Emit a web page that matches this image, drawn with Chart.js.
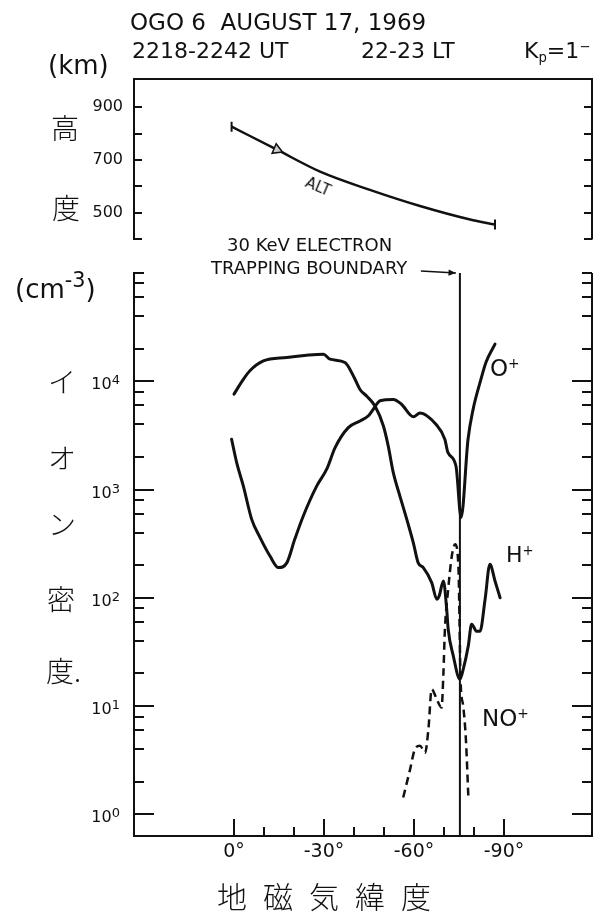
<!DOCTYPE html>
<html>
<head>
<meta charset="utf-8">
<title>OGO 6 ion densities</title>
<script src="https://cdn.jsdelivr.net/npm/chart.js@4.4.1/dist/chart.umd.min.js"></script>
<style>
  body { margin: 0; background: #fff; }
  #page { position: relative; width: 593px; height: 912px; overflow: hidden; background: #fff; color: #111; }
  canvas { position: absolute; left: 0; }
  .t { position: absolute; line-height: 1; white-space: pre; font-family: 'DejaVu Sans', sans-serif; transform: translateY(-50%); }
  .jp { font-family: 'Noto Sans CJK JP', sans-serif; font-weight: 300; font-size: 28px; }
  sup, sub { font-size: 0.6em; line-height: 0; position: relative; vertical-align: baseline; }
  sup { top: -0.55em; }
  sub { top: 0.3em; }
</style>
</head>
<body>
<div id="page">
  <canvas id="altChart" width="593" height="260" style="top:0"></canvas>
  <canvas id="ionChart" width="593" height="657" style="top:255px"></canvas>

  <div class="t" style="left:130px; top:22px; font-size:23px">OGO 6  AUGUST 17, 1969</div>
  <div class="t" style="left:132px; top:51px; font-size:22px">2218-2242 UT</div>
  <div class="t" style="left:361px; top:51px; font-size:22px">22-23 LT</div>
  <div class="t" style="left:524px; top:51px; font-size:22px">K<sub>p</sub>=1<sup>−</sup></div>

  <div class="t" style="left:48px; top:65px; font-size:26px">(km)</div>
  <div class="t jp" style="left:51px; top:127px">高</div>
  <div class="t jp" style="left:52px; top:207px">度</div>

  <div class="t" style="left:15px; top:289px; font-size:26px">(cm<sup style="font-size:0.8em">-3</sup>)</div>
  <div class="t jp" style="left:48px; top:381px">イ</div>
  <div class="t jp" style="left:48px; top:457px">オ</div>
  <div class="t jp" style="left:48px; top:523px">ン</div>
  <div class="t jp" style="left:47px; top:598px">密</div>
  <div class="t jp" style="left:46px; top:670px">度.</div>

  <div class="t jp" style="left:217px; top:895px; font-size:30px; letter-spacing:16px">地磁気緯度</div>

  <div class="t" style="left:227px; top:245px; font-size:18px">30 KeV ELECTRON</div>
  <div class="t" style="left:211px; top:268px; font-size:18px">TRAPPING BOUNDARY</div>
  <div class="t" style="left:305px; top:187px; font-size:15px; transform:translateY(-50%) rotate(23deg)">ALT</div>

  <div class="t" style="left:490px; top:368px; font-size:23px">O<sup>+</sup></div>
  <div class="t" style="left:506px; top:555px; font-size:22px">H<sup>+</sup></div>
  <div class="t" style="left:482px; top:718px; font-size:23px">NO<sup>+</sup></div>
</div>

<script>
// satellite altitude along the pass (km)
const altLat = [0.8, -14.3, -28.7, -45.3, -62, -78.7, -87];
const altKm = [826, 739, 656, 587, 526, 475, 456];
const altArrowIndex = 1;

// H+ density (cm^-3)
const hLat = [0, -3.1, -5.3, -9.8, -17.6, -24.2, -29.8, -32, -37, -39.8, -42, -44.2, -47, -49.8,
  -51.4, -53.1, -55.3, -57.6, -59.8, -61.4, -63.1, -65.9, -67.6, -68.4, -69.8, -70.9, -71.4,
  -73.1, -75.3, -76.4, -78.1, -79.2, -80.9, -82, -83.7, -85.3, -87, -88.7];
const hDen = [7600, 10400, 12500, 15400, 16600, 17400, 17800, 16000, 14900, 11200, 8400, 7300, 5900, 3860,
  2530, 1430, 870, 530, 320, 210, 190, 138, 97, 104, 143, 78, 51,
  29, 17.7, 21.8, 36, 57, 49, 49, 97, 204, 143, 100];

// O+ density (cm^-3)
const oLat = [0.8, -0.9, -3.1, -5.9, -8.7, -12, -14.8, -17.6, -20.3, -23.1, -27.6, -30.9, -33.7, -38.1,
  -42, -44.8, -46.2, -48.7, -53.1, -55.9, -59.8, -62, -67.3, -70.3, -71.3, -74, -75.7, -78,
  -79.7, -82.3, -84, -87];
const oDen = [2910, 1770, 1080, 530, 360, 243, 190, 210, 350, 570, 1080, 1540, 2440, 3730,
  4300, 4800, 5400, 6600, 6800, 6100, 4700, 5100, 4000, 2900, 2200, 1640, 550, 2900,
  5500, 10400, 15000, 22000];

// NO+ density (cm^-3)
const noLat = [-56.4, -58.7, -60.3, -62, -63.7, -64.8, -65.9, -67.6, -69.2, -69.8, -70.3, -71.4,
  -72.6, -73.7, -74.8, -75.2, -75.5, -76.4, -77.3, -78.1];
const noDen = [1.43, 2.6, 4.0, 4.3, 3.7, 6.1, 14.3, 11.5, 9.7, 20, 51, 120,
  243, 312, 197, 55, 17.7, 10, 4.9, 1.48];

// 30 keV electron trapping boundary
const boundaryLat = -75.3;

// axes
const latMin = -119.33, latMax = 33.33;
const latTicks = [0, -10, -20, -30, -40, -50, -60, -70, -80, -90];
const latLabelled = [0, -30, -60, -90];
const altTicks = [400, 500, 600, 700, 800, 900];
const altLabelled = [500, 700, 900];
const decades = [1, 10, 100, 1000, 10000];
const decadeExponents = ['0', '1', '2', '3', '4'];
const densityMin = 0.63, densityMax = 1e5;
const densityTicks = [];
decades.forEach(d => [1, 2, 4, 6, 8].forEach(m => densityTicks.push(m * d)));
densityTicks.push(densityMax);

const ink = '#111';
const fontFamily = "'DejaVu Sans', sans-serif";
Chart.defaults.font.family = fontFamily;
Chart.defaults.color = ink;

// inward tick marks, closing frame lines, decade labels and the boundary pointer
function frame(cfg) {
  return {
    id: 'frame',
    afterDraw(chart) {
      const {ctx, chartArea: a, scales: {x, y}} = chart;
      ctx.save();
      ctx.strokeStyle = ink;
      ctx.fillStyle = ink;
      ctx.lineWidth = 2;
      ctx.beginPath();
      if (cfg.topLine) {
        ctx.moveTo(a.left - 1, a.top);
        ctx.lineTo(a.right + 1, a.top);
      }
      ctx.moveTo(a.right, a.top);
      ctx.lineTo(a.right, a.bottom);
      y.ticks.forEach(t => {
        const py = Math.round(y.getPixelForValue(t.value));
        const len = cfg.yLen(t.value);
        ctx.moveTo(a.left, py);
        ctx.lineTo(a.left + len, py);
        ctx.moveTo(a.right, py);
        ctx.lineTo(a.right - len, py);
      });
      if (cfg.xTicks) {
        x.ticks.forEach(t => {
          const px = Math.round(x.getPixelForValue(t.value));
          const len = latLabelled.includes(t.value) ? 17 : 9;
          ctx.moveTo(px, a.bottom);
          ctx.lineTo(px, a.bottom - len);
        });
      }
      ctx.stroke();

      if (cfg.decadeLabels) {
        ctx.textBaseline = 'alphabetic';
        decades.forEach((d, k) => {
          const py = y.getPixelForValue(d);
          const right = a.left - 14;
          ctx.font = '13px ' + fontFamily;
          ctx.textAlign = 'right';
          ctx.fillText(decadeExponents[k], right, py + 3);
          const ew = ctx.measureText(decadeExponents[k]).width;
          ctx.font = '16px ' + fontFamily;
          ctx.fillText('10', right - ew, py + 8);
        });
      }

      if (cfg.pointer) {
        const x0 = x.getPixelForValue(-62.3), y0 = a.top - 2;
        const x1 = x.getPixelForValue(boundaryLat) - 4, y1 = a.top;
        const ang = Math.atan2(y1 - y0, x1 - x0);
        ctx.lineWidth = 1.5;
        ctx.beginPath();
        ctx.moveTo(x0, y0);
        ctx.lineTo(x1, y1);
        ctx.stroke();
        ctx.beginPath();
        ctx.moveTo(x1, y1);
        ctx.lineTo(x1 - 8 * Math.cos(ang - 0.4), y1 - 8 * Math.sin(ang - 0.4));
        ctx.lineTo(x1 - 8 * Math.cos(ang + 0.4), y1 - 8 * Math.sin(ang + 0.4));
        ctx.closePath();
        ctx.fill();
      }
      ctx.restore();
    }
  };
}

const series = (lat, val) => lat.map((v, i) => ({x: v, y: val[i]}));
const lastAlt = altLat.length - 1;

new Chart(document.getElementById('altChart'), {
  type: 'line',
  data: {
    datasets: [{
      data: series(altLat, altKm),
      borderColor: ink,
      borderWidth: 2.5,
      cubicInterpolationMode: 'monotone',
      pointStyle: altLat.map((v, i) => (i === 0 || i === lastAlt) ? 'line' : i === altArrowIndex ? 'triangle' : 'circle'),
      pointRadius: altLat.map((v, i) => (i === 0 || i === lastAlt) ? 5 : i === altArrowIndex ? 6 : 0),
      pointRotation: altLat.map((v, i) => (i === 0 || i === lastAlt) ? 90 : i === altArrowIndex ? 113 : 0),
      pointBackgroundColor: '#ccc',
      pointBorderColor: ink,
      pointBorderWidth: altLat.map((v, i) => i === altArrowIndex ? 1.5 : 2)
    }]
  },
  options: {
    responsive: false,
    animation: false,
    devicePixelRatio: 1,
    layout: {autoPadding: false, padding: {left: 0, right: 1, top: 79, bottom: 19}},
    plugins: {legend: {display: false}, tooltip: {enabled: false}},
    scales: {
      x: {type: 'linear', reverse: true, min: latMin, max: latMax, bounds: 'data', display: false},
      y: {
        type: 'linear', min: 400, max: 1006, bounds: 'data',
        afterFit: s => { s.width = 134; },
        afterBuildTicks: s => { s.ticks = altTicks.map(v => ({value: v})); },
        grid: {drawOnChartArea: false, drawTicks: false},
        border: {color: ink, width: 2},
        ticks: {padding: 11, autoSkip: false, font: {size: 16},
          callback: v => altLabelled.includes(v) ? String(v) : ''}
      }
    }
  },
  plugins: [frame({topLine: true, yLen: () => 8})]
});

new Chart(document.getElementById('ionChart'), {
  type: 'line',
  data: {
    datasets: [
      {label: 'H+', data: series(hLat, hDen), borderColor: ink, borderWidth: 3, pointRadius: 0,
        cubicInterpolationMode: 'monotone', borderJoinStyle: 'round', borderCapStyle: 'round'},
      {label: 'O+', data: series(oLat, oDen), borderColor: ink, borderWidth: 3, pointRadius: 0,
        cubicInterpolationMode: 'monotone', borderJoinStyle: 'round', borderCapStyle: 'round'},
      {label: 'NO+', data: series(noLat, noDen), borderColor: ink, borderWidth: 2.5, pointRadius: 0,
        borderDash: [8, 5], cubicInterpolationMode: 'monotone'},
      {label: 'boundary', data: [{x: boundaryLat, y: densityMax}, {x: boundaryLat, y: densityMin}],
        borderColor: ink, borderWidth: 2, pointRadius: 0, tension: 0}
    ]
  },
  options: {
    responsive: false,
    animation: false,
    devicePixelRatio: 1,
    layout: {autoPadding: false, padding: {left: 0, right: 1, top: 18, bottom: 0}},
    plugins: {legend: {display: false}, tooltip: {enabled: false}},
    scales: {
      x: {
        type: 'linear', reverse: true, min: latMin, max: latMax, bounds: 'data',
        afterFit: s => { s.height = 76; },
        afterBuildTicks: s => { s.ticks = latTicks.map(v => ({value: v})); },
        grid: {drawOnChartArea: false, drawTicks: false},
        border: {color: ink, width: 2},
        ticks: {padding: 5, autoSkip: false, maxRotation: 0, font: {size: 19},
          callback: v => latLabelled.includes(v) ? v + '°' : ''}
      },
      y: {
        type: 'logarithmic', min: densityMin, max: densityMax, bounds: 'data',
        afterFit: s => { s.width = 134; },
        afterBuildTicks: s => { s.ticks = densityTicks.map(v => ({value: v})); },
        grid: {drawOnChartArea: false, drawTicks: false},
        border: {color: ink, width: 2},
        ticks: {display: false}
      }
    }
  },
  plugins: [frame({xTicks: true, pointer: true, decadeLabels: true,
    yLen: v => decades.includes(v) ? 20 : 10})]
});
</script>
</body>
</html>
